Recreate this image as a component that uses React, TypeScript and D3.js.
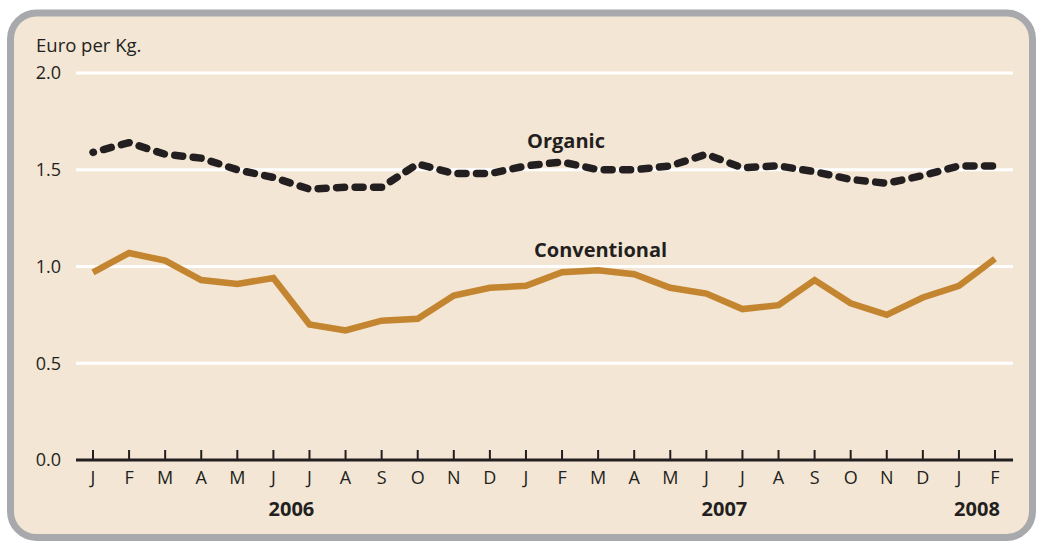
import React from "react";
import * as d3 from "d3";

const months = ["J","F","M","A","M","J","J","A","S","O","N","D","J","F","M","A","M","J","J","A","S","O","N","D","J","F"];
const organic = [1.59,1.64,1.58,1.56,1.50,1.46,1.40,1.41,1.41,1.53,1.48,1.48,1.52,1.54,1.50,1.50,1.52,1.58,1.51,1.52,1.49,1.45,1.43,1.47,1.52,1.52];
const conventional = [0.97,1.07,1.03,0.93,0.91,0.94,0.70,0.67,0.72,0.73,0.85,0.89,0.90,0.97,0.98,0.96,0.89,0.86,0.78,0.80,0.93,0.81,0.75,0.84,0.90,1.04];
const yTicks = [0, 0.5, 1.0, 1.5, 2.0];
const years = [
  { label: "2006", from: 0, to: 11 },
  { label: "2007", from: 12, to: 23 },
  { label: "2008", from: 24, to: 25 },
];

const W = 1037, H = 543;
const FONT = "'Open Sans', 'Noto Sans', sans-serif";
const TEXT = "#231f20";

export default function App() {
  const x = d3.scaleLinear().domain([0, months.length - 1]).range([93, 995]);
  const y = d3.scaleLinear().domain([0, 2]).range([460, 73]);
  const line = d3.line<number>().x((_, i) => x(i)).y(d => y(d));
  return (
    <svg width={W} height={H} style={{ position: "absolute", left: 0, top: 0 }}>
      <rect x={10.5} y={13} width={1022} height={524.5} rx={26} ry={26}
        fill="#f3e6d4" stroke="#a7a9ac" strokeWidth={7} />
      <text x={36} y={52} fontFamily={FONT} fontSize={18.5} fill={TEXT}>Euro per Kg.</text>
      {yTicks.map(t => (
        <g key={t}>
          {t > 0 && <line x1={76} x2={1013} y1={y(t)} y2={y(t)} stroke="#ffffff" strokeWidth={3} />}
          <text x={61} y={y(t)} dy="0.35em" textAnchor="end" fontFamily={FONT} fontSize={18} fill={TEXT}>
            {t.toFixed(1)}
          </text>
        </g>
      ))}
      <line x1={76} x2={1013} y1={y(0)} y2={y(0)} stroke={TEXT} strokeWidth={3} />
      {months.map((m, i) => (
        <g key={i}>
          <line x1={x(i)} x2={x(i)} y1={y(0)} y2={y(0) - 10} stroke={TEXT} strokeWidth={2} />
          <text x={x(i)} y={484} textAnchor="middle" fontFamily={FONT} fontSize={18} fill={TEXT}>{m}</text>
        </g>
      ))}
      {years.map(yr => (
        <text key={yr.label} x={(x(yr.from) + x(yr.to)) / 2} y={516} textAnchor="middle"
          fontFamily={FONT} fontSize={20} fontWeight="bold" fill={TEXT}>{yr.label}</text>
      ))}
      <path d={line(conventional) || ""} fill="none" stroke="#c48530" strokeWidth={6.5} strokeLinejoin="miter" />
      <path d={line(organic) || ""} fill="none" stroke="#231f20" strokeWidth={7.5}
        strokeLinecap="round" strokeDasharray="8 10.5" strokeDashoffset={7.6} strokeLinejoin="round" />
      <text x={527} y={148} fontFamily={FONT} fontSize={20} fontWeight="bold" fill={TEXT}>Organic</text>
      <text x={534} y={257} fontFamily={FONT} fontSize={20} fontWeight="bold" fill={TEXT}>Conventional</text>
    </svg>
  );
}
